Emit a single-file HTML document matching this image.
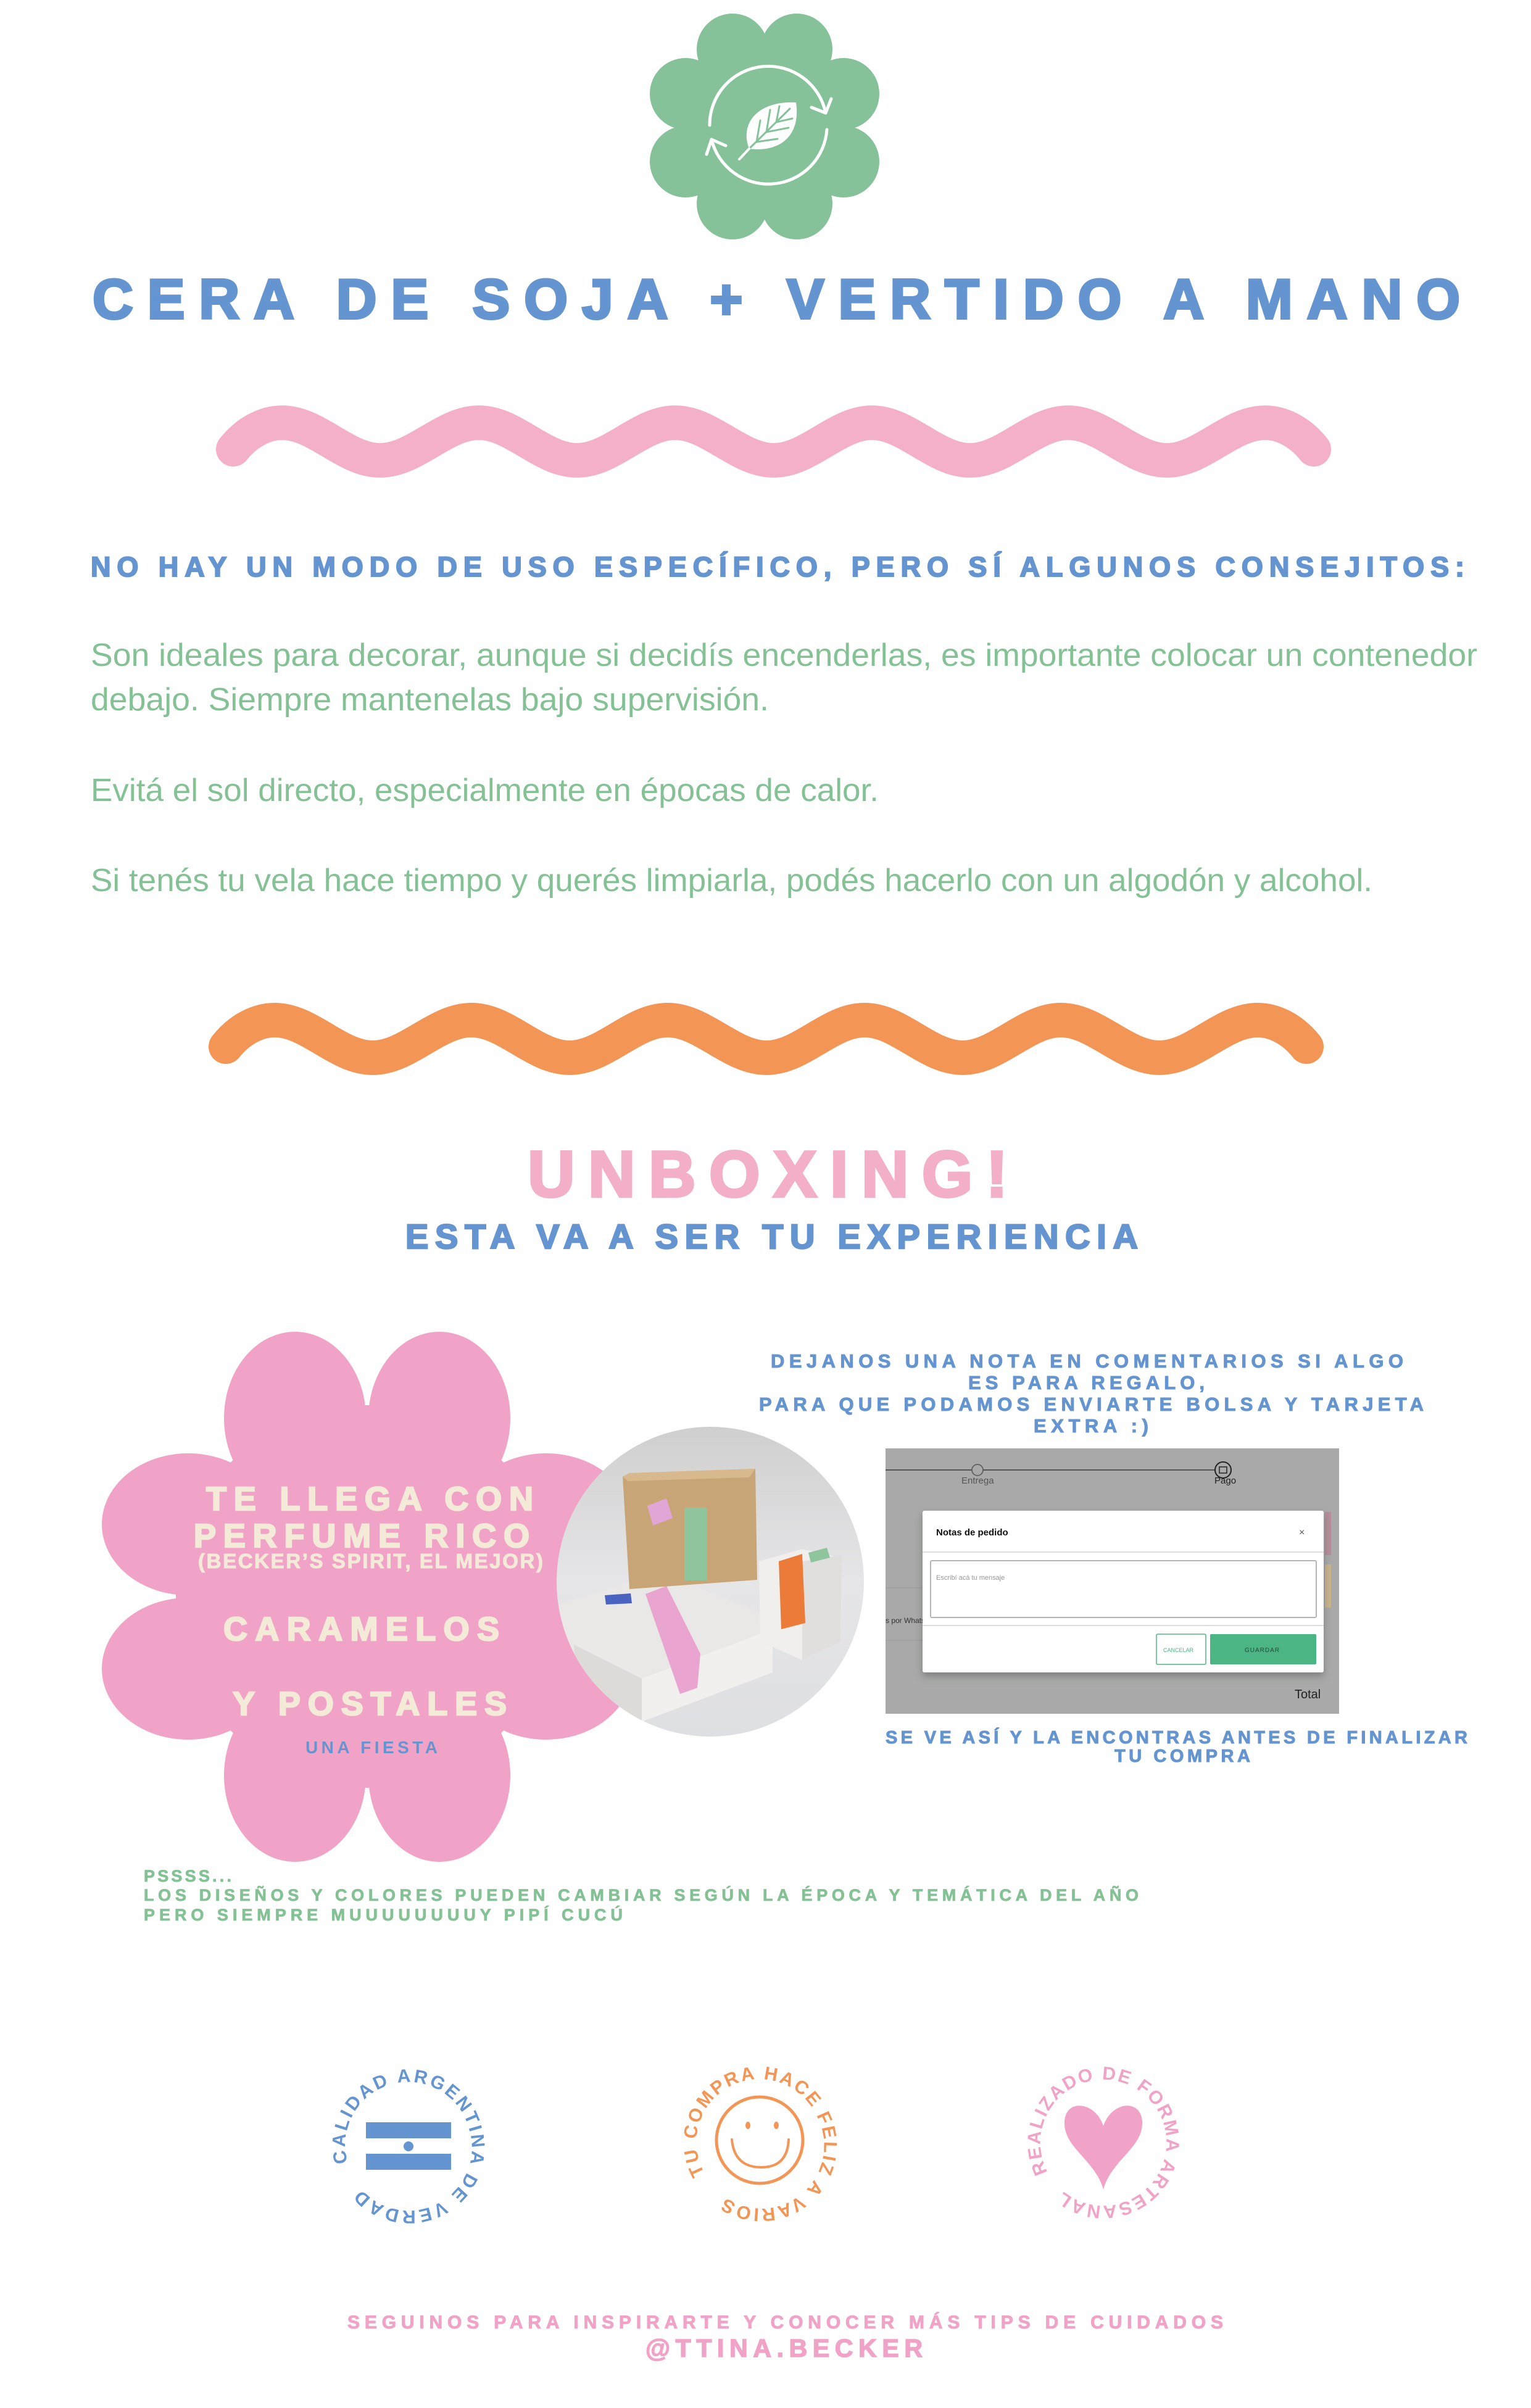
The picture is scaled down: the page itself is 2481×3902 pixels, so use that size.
<!DOCTYPE html>
<html><head><meta charset="utf-8">
<style>
html,body{margin:0;padding:0;background:#fff;}
svg{display:block;}
text{font-family:"Liberation Sans",sans-serif;}
.h{font-weight:bold;}
</style></head>
<body>
<svg width="2481" height="3902" viewBox="0 0 2481 3902" xmlns="http://www.w3.org/2000/svg">
<defs>
<clipPath id="pc"><ellipse cx="1151" cy="2563" rx="249" ry="251"/></clipPath>
<linearGradient id="pg" x1="0" y1="0" x2="0" y2="1"><stop offset="0" stop-color="#cfcfcf"/><stop offset="0.5" stop-color="#e6e6e8"/><stop offset="1" stop-color="#dedfe2"/></linearGradient>
<path id="cb" d="M563.5,3504.4 A102,102 0 1 1 760.5,3451.6 A102,102 0 1 1 563.5,3504.4"/>
<path id="co" d="M1142,3521.9 A102,102 0 1 1 1322,3426.1 A102,102 0 1 1 1142,3521.9"/>
<path id="cp" d="M1697.9,3519.9 A102,102 0 1 1 1878.1,3424.1 A102,102 0 1 1 1697.9,3519.9"/>
<filter id="sh" x="-5%" y="-5%" width="110%" height="115%"><feDropShadow dx="0" dy="6" stdDeviation="6" flood-color="#000" flood-opacity="0.25"/></filter>
</defs>

<!-- green flower -->
<g fill="#86c299">
<circle cx="1239" cy="206" r="120"/>
<circle cx="1187" cy="80" r="58"/><circle cx="1291" cy="80" r="58"/>
<circle cx="1367" cy="152" r="58"/><circle cx="1367" cy="262" r="58"/>
<circle cx="1291" cy="330" r="58"/><circle cx="1187" cy="330" r="58"/>
<circle cx="1111" cy="262" r="58"/><circle cx="1111" cy="152" r="58"/>
</g>
<g fill="none" stroke="#fff" stroke-width="5" stroke-linecap="round" stroke-linejoin="round">
<path d="M1150,203 A95,95 0 0 1 1338,183"/>
<path d="M1315,174 L1338,183 L1347,160"/>
<path d="M1340,210 A95,95 0 0 1 1153,226"/>
<path d="M1176,236 L1153,226 L1145,250"/>
</g>
<path d="M1214,241 C1198,200 1228,163 1290,166 C1298,222 1262,247 1214,241 Z" fill="#fff"/>
<g stroke="#86c299" stroke-width="3" stroke-linecap="round" fill="none">
<path d="M1215,240 L1280,176"/><path d="M1226,230 L1232,195"/><path d="M1242,214 L1248,178"/><path d="M1258,198 L1263,172"/>
<path d="M1226,230 L1260,225"/><path d="M1242,214 L1278,207"/><path d="M1258,198 L1284,192"/>
</g>
<path d="M1214,241 L1198,258" stroke="#fff" stroke-width="4" stroke-linecap="round"/>

<!-- title -->
<text class="h" x="150" y="516" font-size="91" fill="#6595d0" stroke="#6595d0" stroke-width="4" textLength="2216" lengthAdjust="spacing">CERA DE SOJA + VERTIDO A MANO</text>

<!-- pink wave -->
<path fill="none" stroke="#f4b0c8" stroke-width="56" stroke-linecap="round"
d="M378,728 C400,700 430,685 457,685 C514,685 559,746 616,746 C673,746 719,685 776,685 C833,685 878,746 935,746 C992,746 1037,685 1094,685 C1151,685 1197,746 1254,746 C1311,746 1356,685 1413,685 C1470,685 1515,746 1572,746 C1629,746 1674,685 1731,685 C1788,685 1834,746 1891,746 C1948,746 1993,685 2050,685 C2077,685 2107,700 2129,728"/>

<text class="h" x="147" y="934" font-size="45" fill="#6595d0" stroke="#6595d0" stroke-width="2" textLength="2226" lengthAdjust="spacing">NO HAY UN MODO DE USO ESPECÍFICO, PERO SÍ ALGUNOS CONSEJITOS:</text>

<g fill="#84c295" font-size="52">
<text x="147" y="1079" textLength="2247" lengthAdjust="spacingAndGlyphs">Son ideales para decorar, aunque si decidís encenderlas, es importante colocar un contenedor</text>
<text x="147" y="1151" textLength="1099" lengthAdjust="spacingAndGlyphs">debajo. Siempre mantenelas bajo supervisión.</text>
<text x="147" y="1298" textLength="1277" lengthAdjust="spacingAndGlyphs">Evitá el sol directo, especialmente en épocas de calor.</text>
<text x="147" y="1444" textLength="2077" lengthAdjust="spacingAndGlyphs">Si tenés tu vela hace tiempo y querés limpiarla, podés hacerlo con un algodón y alcohol.</text>
</g>

<!-- orange wave -->
<path fill="none" stroke="#f39655" stroke-width="56" stroke-linecap="round"
d="M366,1696 C388,1668 418,1653 445,1653 C502,1653 547,1714 604,1714 C661,1714 707,1653 764,1653 C821,1653 866,1714 923,1714 C980,1714 1025,1653 1082,1653 C1139,1653 1185,1714 1242,1714 C1299,1714 1344,1653 1401,1653 C1458,1653 1503,1714 1560,1714 C1617,1714 1662,1653 1719,1653 C1776,1653 1822,1714 1879,1714 C1936,1714 1981,1653 2038,1653 C2065,1653 2095,1668 2117,1696"/>

<text class="h" x="855" y="1939" font-size="106" fill="#f4afc8" stroke="#f4afc8" stroke-width="4" textLength="778" lengthAdjust="spacing">UNBOXING!</text>
<text class="h" x="657" y="2023" font-size="56" fill="#6595d0" stroke="#6595d0" stroke-width="2.5" textLength="1187" lengthAdjust="spacing">ESTA VA A SER TU EXPERIENCIA</text>

<!-- pink flower -->
<g fill="#f1a3c7">
<circle cx="595" cy="2587" r="310"/>
<ellipse cx="478" cy="2298" rx="115" ry="140"/><ellipse cx="712" cy="2298" rx="115" ry="140"/>
<ellipse cx="885" cy="2470" rx="140" ry="115"/><ellipse cx="885" cy="2704" rx="140" ry="115"/>
<ellipse cx="712" cy="2877" rx="115" ry="140"/><ellipse cx="478" cy="2877" rx="115" ry="140"/>
<ellipse cx="305" cy="2704" rx="140" ry="115"/><ellipse cx="305" cy="2470" rx="140" ry="115"/>
</g>
<g fill="#f3ead8" stroke="#f3ead8">
<text class="h" x="334" y="2447" font-size="54" stroke-width="2.5" textLength="530" lengthAdjust="spacing">TE LLEGA CON</text>
<text class="h" x="314" y="2507" font-size="54" stroke-width="2.5" textLength="544" lengthAdjust="spacing">PERFUME RICO</text>
<text class="h" x="321" y="2541" font-size="33" stroke-width="1" textLength="559" lengthAdjust="spacing">(BECKER’S SPIRIT, EL MEJOR)</text>
<text class="h" x="362" y="2658" font-size="54" stroke-width="2.5" textLength="447" lengthAdjust="spacing">CARAMELOS</text>
<text class="h" x="377" y="2779" font-size="54" stroke-width="2.5" textLength="444" lengthAdjust="spacing">Y POSTALES</text>
</g>
<text class="h" x="495" y="2841" font-size="28" fill="#6595d0" textLength="214" lengthAdjust="spacing">UNA FIESTA</text>

<!-- photo circle -->
<ellipse cx="1151" cy="2563" rx="249" ry="251" fill="url(#pg)"/>
<g clip-path="url(#pc)">
<polygon points="905,2600 1070,2548 1250,2620 1252,2700 1040,2770 930,2720" fill="#e9e8e6"/>
<polygon points="930,2665 1040,2720 1040,2790 935,2740" fill="#dcdbd8"/>
<polygon points="1040,2720 1252,2640 1252,2710 1040,2790" fill="#f1f0ee"/>
<polygon points="1046,2583 1080,2570 1135,2680 1130,2735 1102,2745" fill="#e9a4cf"/>
<polygon points="980,2585 1022,2582 1024,2598 982,2600" fill="#4a62c0"/>
<polygon points="1009,2393 1020,2387 1224,2380 1227,2560 1020,2575" fill="#c8a577"/>
<polygon points="1009,2393 1020,2387 1224,2380 1214,2394 1018,2400" fill="#d8b98d"/>
<rect x="1109" y="2443" width="37" height="118" fill="#8ec59d"/>
<polygon points="1049,2440 1080,2428 1090,2460 1058,2472" fill="#e1a6d6"/>
<polygon points="1230,2530 1300,2510 1364,2525 1362,2660 1300,2690 1232,2660" fill="#f0efed"/>
<polygon points="1300,2530 1364,2520 1362,2660 1300,2690" fill="#e0dfdd"/>
<polygon points="1262,2530 1300,2518 1305,2630 1266,2640" fill="#ec7a38"/>
<polygon points="1310,2516 1340,2508 1345,2524 1314,2532" fill="#8ec59d"/>
</g>

<!-- right texts -->
<g fill="#6595d0" stroke="#6595d0" stroke-width="1" font-size="31">
<text class="h" x="1249" y="2216" textLength="1025" lengthAdjust="spacing">DEJANOS UNA NOTA EN COMENTARIOS SI ALGO</text>
<text class="h" x="1569" y="2251" textLength="383" lengthAdjust="spacing">ES PARA REGALO,</text>
<text class="h" x="1230" y="2286" textLength="1077" lengthAdjust="spacing">PARA QUE PODAMOS ENVIARTE BOLSA Y TARJETA</text>
<text class="h" x="1675" y="2321" textLength="186" lengthAdjust="spacing">EXTRA :)</text>
<text class="h" x="1435" y="2825" font-size="29" textLength="943" lengthAdjust="spacing">SE VE ASÍ Y LA ENCONTRAS ANTES DE FINALIZAR</text>
<text class="h" x="1806" y="2855" font-size="29" textLength="220" lengthAdjust="spacing">TU COMPRA</text>
</g>

<!-- screenshot -->
<rect x="1435" y="2347" width="735" height="430" fill="#a8a9a8"/>
<line x1="1435" y1="2382" x2="1975" y2="2382" stroke="#555" stroke-width="2"/>
<circle cx="1584" cy="2382" r="9" fill="#a8a9a8" stroke="#555" stroke-width="1.5"/>
<circle cx="1982" cy="2382" r="13" fill="#a8a9a8" stroke="#222" stroke-width="2"/>
<rect x="1976" y="2377" width="12" height="10" fill="none" stroke="#222" stroke-width="1.5"/>
<text x="1558" y="2404" font-size="15" fill="#555">Entrega</text>
<text x="1968" y="2404" font-size="15" fill="#222">Pago</text>
<line x1="1435" y1="2573" x2="1495" y2="2573" stroke="#999" stroke-width="1"/>
<line x1="1435" y1="2658" x2="1495" y2="2658" stroke="#999" stroke-width="1"/>
<text x="1435" y="2630" font-size="12" fill="#333">s por Whats</text>
<rect x="2147" y="2450" width="10" height="70" fill="#b48e99"/>
<rect x="2147" y="2535" width="10" height="70" fill="#c8b38e"/>
<text x="2098" y="2752" font-size="20" fill="#222">Total</text>
<rect x="1495" y="2448" width="650" height="262" fill="#fff" rx="3" filter="url(#sh)"/>
<text class="h" x="1517" y="2488" font-size="15" fill="#111">Notas de pedido</text>
<text x="2105" y="2488" font-size="16" fill="#555">×</text>
<line x1="1495" y1="2515" x2="2145" y2="2515" stroke="#ddd" stroke-width="2"/>
<rect x="1508" y="2529" width="625" height="92" fill="#fff" stroke="#b5b5b5" stroke-width="2" rx="2"/>
<text x="1517" y="2560" font-size="11" fill="#999">Escribí acá tu mensaje</text>
<line x1="1495" y1="2634" x2="2145" y2="2634" stroke="#ddd" stroke-width="2"/>
<rect x="1874" y="2648" width="80" height="49" fill="#fff" stroke="#4bb583" stroke-width="1.5" rx="2"/>
<text x="1885" y="2677" font-size="9" fill="#4bb583">CANCELAR</text>
<rect x="1961" y="2648" width="172" height="49" fill="#4bb583" rx="2"/>
<text x="2017" y="2677" font-size="10" fill="#1e4d36" letter-spacing="1">GUARDAR</text>

<!-- green notes -->
<g fill="#84c295" stroke="#84c295" stroke-width="0.8">
<text class="h" x="233" y="3049" font-size="27" textLength="142" lengthAdjust="spacing">PSSSS...</text>
<text class="h" x="233" y="3080" font-size="27" textLength="1612" lengthAdjust="spacing">LOS DISEÑOS Y COLORES PUEDEN CAMBIAR SEGÚN LA ÉPOCA Y TEMÁTICA DEL AÑO</text>
<text class="h" x="233" y="3112" font-size="27" textLength="776" lengthAdjust="spacing">PERO SIEMPRE MUUUUUUUUY PIPÍ CUCÚ</text>
</g>

<!-- badges -->
<text class="h" font-size="30" fill="#6595d0"><textPath href="#cb" textLength="600" lengthAdjust="spacing">CALIDAD ARGENTINA DE VERDAD</textPath></text>
<rect x="593" y="3439" width="138" height="26" fill="#6595d0"/>
<rect x="593" y="3490" width="138" height="26" fill="#6595d0"/>
<circle cx="662" cy="3478" r="8" fill="#6595d0"/>

<text class="h" font-size="30" fill="#f39655"><textPath href="#co" textLength="600" lengthAdjust="spacing">TU COMPRA HACE FELIZ A VARIOS</textPath></text>
<circle cx="1231" cy="3468" r="70" fill="none" stroke="#f39655" stroke-width="5"/>
<ellipse cx="1212" cy="3444" rx="4" ry="6" fill="#f39655"/>
<ellipse cx="1258" cy="3444" rx="4" ry="6" fill="#f39655"/>
<path d="M1186,3467 Q1190,3512 1234,3512 Q1276,3512 1278,3467" fill="none" stroke="#f39655" stroke-width="4" stroke-linecap="round"/>

<text class="h" font-size="30" fill="#f1a3c7"><textPath href="#cp" textLength="600" lengthAdjust="spacing">REALIZADO DE FORMA ARTESANAL</textPath></text>
<path d="M1788,3548 C1775,3500 1723,3480 1725,3438 C1727,3400 1775,3405 1788,3445 C1801,3405 1849,3400 1851,3438 C1853,3480 1801,3500 1788,3548 Z" fill="#f1a3c7"/>

<!-- footer -->
<text class="h" x="563" y="3773" font-size="30" fill="#f1a3c7" stroke="#f1a3c7" stroke-width="1" textLength="1419" lengthAdjust="spacing">SEGUINOS PARA INSPIRARTE Y CONOCER MÁS TIPS DE CUIDADOS</text>
<text class="h" x="1046" y="3819" font-size="41" fill="#f1a3c7" stroke="#f1a3c7" stroke-width="1.5" textLength="449" lengthAdjust="spacing">@TTINA.BECKER</text>
</svg>
</body></html>
